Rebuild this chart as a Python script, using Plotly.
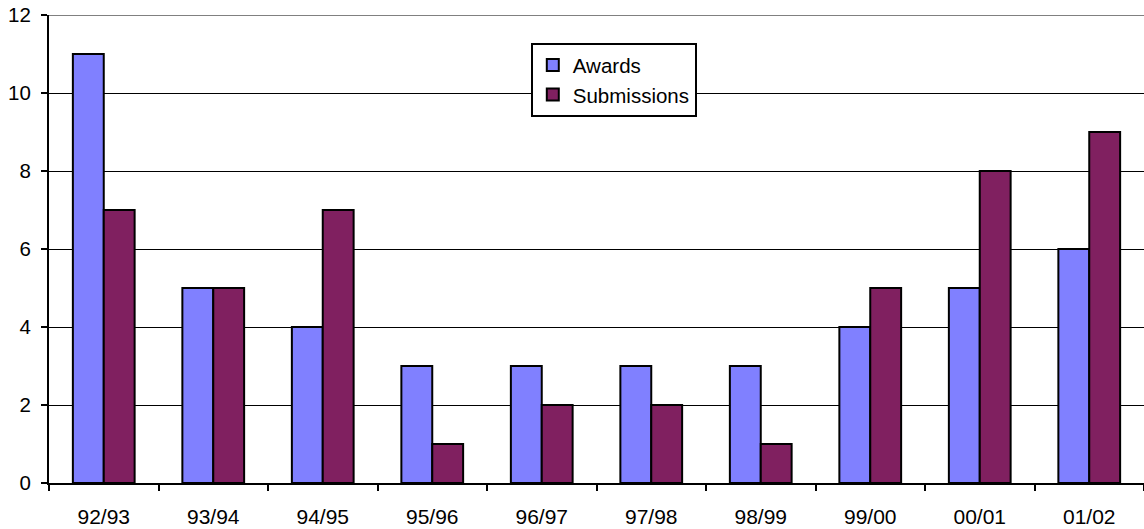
import plotly.graph_objects as go

categories = ["92/93", "93/94", "94/95", "95/96", "96/97", "97/98", "98/99", "99/00", "00/01", "01/02"]
awards = [11, 5, 4, 3, 3, 3, 3, 4, 5, 6]
submissions = [7, 5, 7, 1, 2, 2, 1, 5, 8, 9]
y_ticks = [0, 2, 4, 6, 8, 10, 12]

fig = go.Figure()
fig.add_trace(go.Bar(name="Awards", x=categories, y=awards, legendgroup="a",
                     marker=dict(color="#8080FF", line=dict(color="black", width=2))))
fig.add_trace(go.Bar(name="Submissions", x=categories, y=submissions, legendgroup="s",
                     marker=dict(color="#802060", line=dict(color="black", width=2))))

fig.update_layout(
    width=1144, height=529,
    margin=dict(l=49, r=0, t=15, b=46, autoexpand=False),
    paper_bgcolor="white", plot_bgcolor="white",
    barmode="group", bargap=0.436, bargroupgap=0,
    font=dict(family="Liberation Sans, Arial, sans-serif", size=20.5, color="black"),
    showlegend=True,
    legend=dict(x=0.44, y=0.94, xanchor="left", yanchor="top",
                bgcolor="white", bordercolor="black", borderwidth=2,
                font=dict(size=20.5), traceorder="grouped", tracegroupgap=0,
                itemwidth=30),
)
fig.update_xaxes(showline=True, linecolor="black", linewidth=2,
                 ticks="outside", tickson="boundaries", ticklen=6, tickwidth=2, tickcolor="black",
                 showgrid=False, ticklabelstandoff=14, automargin=False,
                 tickfont=dict(size=21))
fig.update_yaxes(range=[0, 12], tickvals=y_ticks, showline=True, linecolor="black", linewidth=2,
                 ticks="outside", ticklen=6, tickwidth=1.5, tickcolor="black",
                 showgrid=True, gridcolor="black", gridwidth=1, zeroline=False,
                 ticklabelstandoff=6, automargin=False)
fig.add_shape(type="line", xref="paper", yref="y", x0=0, x1=1, y0=12, y1=12,
              line=dict(color="#808080", width=2), layer="above")

fig.write_html("out.html", config={"displayModeBar": False},
               post_script="document.body.style.margin='0';document.body.style.overflow='hidden';")
